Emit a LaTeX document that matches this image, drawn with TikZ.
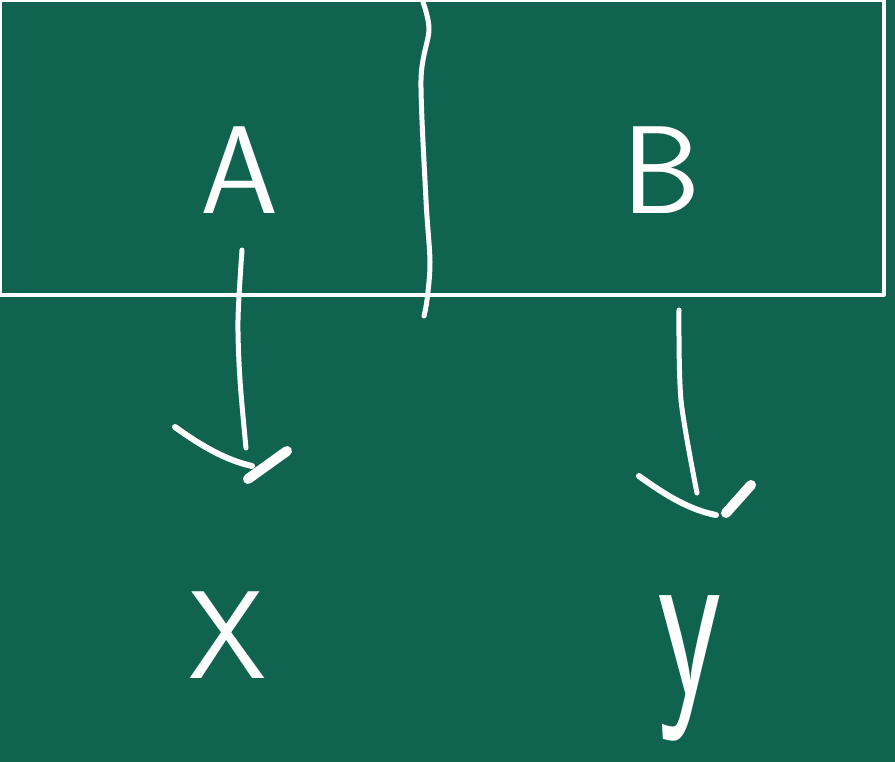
\documentclass[tikz,border=0pt]{standalone}
\usepackage{fontspec}
\definecolor{board}{HTML}{10634F}

\begin{document}
\begin{tikzpicture}[x=1pt,y=-1pt,line cap=round,line join=round,
  chalk/.style={draw=white,line width=5pt},
  tipstroke/.style={draw=white,line width=10pt},
  letter/.style={text=white,inner sep=0pt,font=\fontsize{125}{125}\selectfont\sffamily}]
  % ============ pizarra ============
  \fill[board] (0,0) rectangle (895,762);
  \useasboundingbox (0,0) rectangle (895,762);
  \draw[chalk,line width=4pt,line cap=butt] (0,0) rectangle (884,295);
  % linea divisoria (a mano)
  \draw[chalk,line width=5pt] plot[smooth] coordinates {(423,2) (429,30) (421,80) (426,200) (430,262) (427,300) (424,316)};
  % ============ letras ============
  \node[letter] (A) at (240,170) {A};
  \node[letter] (B) at (662,170) {B};
  \node[letter] (X) at (228,635) {X};
  \node[letter,font=\fontsize{230}{230}\selectfont\sffamily,xscale=0.65] (Y) at (690,668) {y};
  % ---------- flecha A -> X ----------
  \coordinate (a1) at (242,250); \coordinate (a2) at (246,448);
  \draw[chalk] plot[smooth] coordinates {(a1) (238,320) (240,380) (a2)};
  \draw[white,line width=6pt] (175,427) .. controls (200,445) and (225,460) .. (252,466);
  \draw[tipstroke] (248,479) -- (287,451);
  % ---------- flecha B -> y ----------
  \coordinate (b1) at (679,310); \coordinate (b2) at (697,493);
  \draw[chalk] plot[smooth] coordinates {(b1) (681,400) (b2)};
  \draw[white,line width=6pt] (639,476) .. controls (665,495) and (690,510) .. (716,515);
  \draw[tipstroke] (726,513) -- (751,485);
\end{tikzpicture}
\end{document}
